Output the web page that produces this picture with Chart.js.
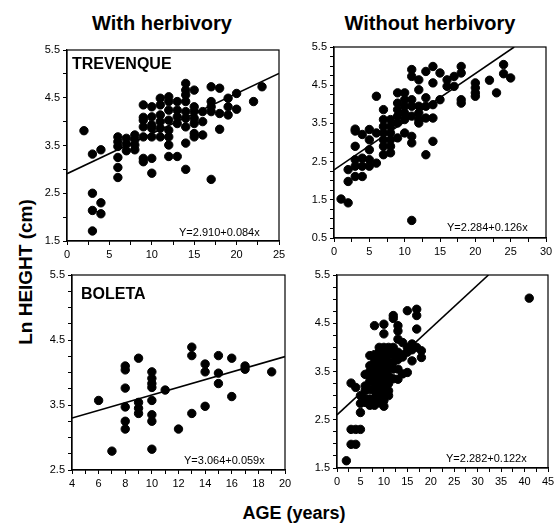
<!DOCTYPE html>
<html>
<head>
<meta charset="utf-8">
<script src="https://cdn.jsdelivr.net/npm/chart.js@4.4.1/dist/chart.umd.min.js"></script>
<style>
  body { margin: 0; background: #fff; width: 555px; height: 524px; position: relative; overflow: hidden;
         font-family: "Liberation Sans", Arial, sans-serif; color: #000; }
  canvas { position: absolute; }
  .t { position: absolute; white-space: nowrap; line-height: 1; }
  .head { font-weight: bold; font-size: 20px; transform: translateX(-50%); }
  .site { font-weight: bold; font-size: 16px; }
  .eq { font-size: 11px; }
</style>
</head>
<body>
<div class="t head" style="left:162px; top:13px;">With herbivory</div>
<div class="t head" style="left:430px; top:13px;">Without herbivory</div>
<div class="t head" style="left:25px; top:272px; font-size:19px; transform: translate(-50%, -50%) rotate(-90deg);">Ln HEIGHT (cm)</div>
<div class="t head" style="left:294px; top:504px; font-size:18px;">AGE (years)</div>

<canvas id="trevWith" width="261" height="227" style="left:27px; top:40px;"></canvas>
<canvas id="trevWithout" width="261" height="227" style="left:294px; top:37px;"></canvas>
<canvas id="bolWith" width="262" height="231" style="left:32px; top:265px;"></canvas>
<canvas id="bolWithout" width="260" height="229" style="left:297px; top:265px;"></canvas>

<div class="t site" style="left:72px; top:56px;">TREVENQUE</div>
<div class="t site" style="left:81px; top:286px;">BOLETA</div>
<div class="t eq" style="left:179px; top:227px;">Y=2.910+0.084x</div>
<div class="t eq" style="left:447px; top:222px;">Y=2.284+0.126x</div>
<div class="t eq" style="left:184px; top:455px;">Y=3.064+0.059x</div>
<div class="t eq" style="left:446px; top:453px;">Y=2.282+0.122x</div>

<script>
// Trevenque, with herbivory: ages and Ln height values at each age
const trevWithAges = [2, 3, 4, 6, 7, 8, 9, 10, 11, 12, 13, 14, 15, 16, 17, 18, 19, 20, 22, 23];
const trevWithHeights = [
    [3.81],
    [3.32, 2.50, 2.14, 1.71],
    [3.41, 2.30, 2.07],
    [3.68, 3.58, 3.48, 3.25, 3.04, 2.83],
    [3.65, 3.53, 3.39],
    [3.72, 3.62, 3.51, 3.41],
    [4.35, 4.09, 4.03, 3.89, 3.68, 3.23, 3.16],
    [4.31, 4.10, 3.93, 3.86, 3.68, 3.23, 2.92],
    [4.49, 4.35, 4.14, 4.00, 3.86, 3.68],
    [4.52, 4.42, 4.24, 4.03, 3.82, 3.68, 3.51, 3.27],
    [4.42, 4.24, 4.10, 3.96, 3.27],
    [4.80, 4.66, 4.56, 4.42, 4.21, 4.07, 3.89, 3.55, 3.00],
    [4.66, 4.31, 4.21, 4.07, 3.96, 3.75, 3.68],
    [4.21, 4.00, 3.72],
    [4.73, 4.42, 4.31, 4.21, 2.79],
    [4.70, 4.17, 3.84],
    [4.49, 4.31, 4.14],
    [4.59, 4.26],
    [4.42],
    [4.73]
];
const trevWithFitX = [0, 25];
const trevWithFitY = [2.91, 5.01];

// Trevenque, without herbivory
const trevWithoutAges = [1, 2, 3, 4, 5, 6, 7, 8, 9, 10, 11, 12, 13, 14, 15, 16, 17, 18, 20, 22, 23, 24, 25];
const trevWithoutHeights = [
    [1.52],
    [1.42, 1.98, 2.29],
    [2.11, 2.38, 2.55, 2.90, 3.35, 3.30],
    [2.11, 2.38, 2.59, 3.21],
    [2.38, 2.55, 2.81, 3.07, 3.34],
    [4.21, 2.46, 3.25],
    [3.86, 3.60, 3.42, 3.25, 3.07, 2.90, 2.68],
    [3.60, 3.42, 3.25, 3.07, 2.90, 2.73],
    [4.30, 4.03, 3.86, 3.69, 3.51, 3.12],
    [4.30, 4.12, 3.95, 3.77, 3.60, 3.25],
    [4.91, 4.73, 4.12, 3.95, 3.69, 3.16, 2.99, 0.96],
    [4.64, 4.38, 3.95, 3.77, 3.60, 3.51],
    [4.86, 4.17, 3.95, 3.64, 2.68],
    [4.99, 4.56, 3.99, 3.64, 3.03],
    [4.82, 4.12],
    [4.64, 4.47],
    [4.73, 4.47],
    [4.99, 4.82, 4.12, 4.03],
    [4.56, 4.43, 4.30, 4.21],
    [4.63],
    [4.30],
    [5.04, 4.80],
    [4.69]
];
const trevWithoutFitX = [0, 25.5];
const trevWithoutFitY = [2.284, 5.5];

// Boleta, with herbivory
const bolWithAges = [6, 7, 8, 9, 10, 11, 12, 13, 14, 15, 16, 17, 19];
const bolWithHeights = [
    [3.57],
    [2.79],
    [4.10, 4.04, 3.76, 3.47, 3.25, 3.13],
    [4.22, 3.54, 3.45, 3.37],
    [4.01, 3.91, 3.83, 3.77, 3.57, 3.35, 3.25, 2.82],
    [3.73],
    [3.13],
    [4.39, 4.26, 3.37],
    [4.13, 4.01, 3.48],
    [4.26, 3.99, 3.83],
    [4.22, 3.63],
    [4.10, 4.05],
    [4.01]
];
const bolWithFitX = [4, 20];
const bolWithFitY = [3.30, 4.244];

// Boleta, without herbivory
const bolWithoutAges = [2, 3, 4, 5, 6, 7, 8, 9, 10, 11, 12, 13, 14, 15, 16, 17, 18, 41];
const bolWithoutHeights = [
    [1.65],
    [3.26, 2.30, 1.99],
    [3.17, 1.99, 2.30],
    [2.84, 2.65, 2.30, 3.00],
    [3.44, 3.20, 2.93, 2.86, 3.10],
    [3.83, 3.62, 3.41, 3.13, 2.93, 2.80, 3.30, 3.50],
    [4.45, 3.85, 3.70, 3.55, 3.40, 3.25, 3.10, 2.95, 2.80, 3.80],
    [4.00, 3.90, 3.75, 3.60, 3.45, 3.30, 3.15, 3.00, 2.85, 3.70, 3.50],
    [4.48, 4.28, 4.00, 3.90, 3.80, 3.65, 3.50, 3.35, 3.20, 3.05, 2.90, 2.78],
    [4.00, 3.85, 3.70, 3.55, 3.40, 3.25, 3.10, 3.00, 3.95],
    [4.66, 4.60, 4.00, 3.85, 3.70, 3.55, 3.35],
    [4.45, 4.34, 4.17, 3.90, 3.75, 3.55, 3.34],
    [4.10, 3.85, 3.80, 3.45],
    [4.76, 4.00, 3.48, 3.90],
    [4.07, 3.72, 3.95],
    [4.79, 4.66, 4.38, 4.00],
    [3.93, 3.79],
    [5.02]
];
const bolWithoutFitX = [0, 32.3];
const bolWithoutFitY = [2.6, 5.5];

function toPoints(ages, heights) {
    const pts = [];
    ages.forEach((a, i) => heights[i].forEach(h => pts.push({ x: a, y: h })));
    return pts;
}

// draws the full box around the plot area
const framePlugin = {
    id: 'frame',
    afterDraw(chart) {
        const a = chart.chartArea, ctx = chart.ctx;
        ctx.save();
        ctx.strokeStyle = '#000';
        ctx.lineWidth = 1.2;
        ctx.strokeRect(a.left, a.top, a.right - a.left, a.bottom - a.top);
        ctx.restore();
    }
};

function fixSize(w, h) {
    return function (scale) {
        if (w) scale.width = w;
        if (h) scale.height = h;
        scale.paddingLeft = scale.paddingRight = scale.paddingTop = scale.paddingBottom = 0;
    };
}

function makePanel(id, ages, heights, fitX, fitY, xr, yr) {
    const ctx = document.getElementById(id).getContext('2d');
    return new Chart(ctx, {
        type: 'scatter',
        data: {
            datasets: [{
                data: toPoints(ages, heights),
                backgroundColor: '#000',
                borderColor: '#000',
                pointRadius: 4.2,
                pointHoverRadius: 4.2
            }, {
                type: 'line',
                data: fitX.map((x, i) => ({ x: x, y: fitY[i] })),
                borderColor: '#000',
                borderWidth: 1.6,
                pointRadius: 0,
                fill: false
            }]
        },
        options: {
            responsive: false,
            animation: false,
            layout: { padding: { left: 0, right: 9, top: 10, bottom: 0 } },
            plugins: { legend: { display: false }, tooltip: { enabled: false } },
            scales: {
                x: {
                    type: 'linear', min: xr[0], max: xr[1],
                    afterFit: fixSize(0, 26),
                    border: { color: '#000', width: 1.2 },
                    grid: { drawOnChartArea: false, color: '#000', tickLength: 4 },
                    ticks: {
                        stepSize: xr[2], autoSkip: false, maxRotation: 0, color: '#000', padding: 3,
                        font: { family: '"Liberation Sans", Arial', size: 11 },
                        callback: v => Math.abs(v % xr[3]) < 1e-6 ? String(v) : ''
                    }
                },
                y: {
                    min: yr[0], max: yr[1],
                    afterFit: fixSize(40, 0),
                    border: { color: '#000', width: 1.2 },
                    grid: { drawOnChartArea: false, color: '#000', tickLength: 4 },
                    ticks: {
                        stepSize: yr[2], autoSkip: false, color: '#000', padding: 3,
                        font: { family: '"Liberation Sans", Arial', size: 11 },
                        callback: v => Math.abs((v * 2) % 2 - 1) < 1e-6 ? v.toFixed(1) : ''
                    }
                }
            }
        },
        plugins: [framePlugin]
    });
}

makePanel('trevWith', trevWithAges, trevWithHeights, trevWithFitX, trevWithFitY, [0, 25, 2.5, 5], [1.5, 5.5, 0.5]);
makePanel('trevWithout', trevWithoutAges, trevWithoutHeights, trevWithoutFitX, trevWithoutFitY, [0, 30, 2.5, 5], [0.5, 5.5, 0.25]);
makePanel('bolWith', bolWithAges, bolWithHeights, bolWithFitX, bolWithFitY, [4, 20, 1, 2], [2.5, 5.5, 0.25]);
makePanel('bolWithout', bolWithoutAges, bolWithoutHeights, bolWithoutFitX, bolWithoutFitY, [0, 45, 2.5, 5], [1.5, 5.5, 0.25]);
</script>
</body>
</html>
